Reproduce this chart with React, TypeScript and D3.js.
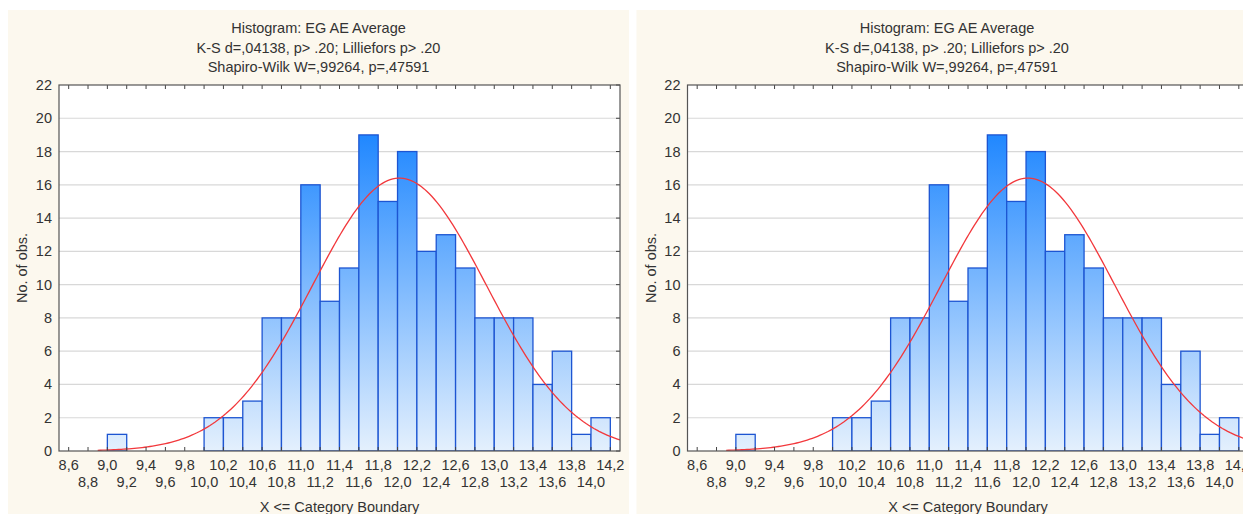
import React from "react";
import * as d3 from "d3";

// ---- data ----
const binStarts = [8.6, 8.8, 9.0, 9.2, 9.4, 9.6, 9.8, 10.0, 10.2, 10.4, 10.6, 10.8, 11.0, 11.2, 11.4, 11.6, 11.8, 12.0, 12.2, 12.4, 12.6, 12.8, 13.0, 13.2, 13.4, 13.6, 13.8, 14.0];
const counts = [0, 0, 1, 0, 0, 0, 0, 2, 2, 3, 8, 8, 16, 9, 11, 19, 15, 18, 12, 13, 11, 8, 8, 8, 4, 6, 1, 2];
const binWidth = 0.2;
const xTickValues = [8.6, 8.8, 9.0, 9.2, 9.4, 9.6, 9.8, 10.0, 10.2, 10.4, 10.6, 10.8, 11.0, 11.2, 11.4, 11.6, 11.8, 12.0, 12.2, 12.4, 12.6, 12.8, 13.0, 13.2, 13.4, 13.6, 13.8, 14.0, 14.2];
const xTickLabels = ["8,6", "8,8", "9,0", "9,2", "9,4", "9,6", "9,8", "10,0", "10,2", "10,4", "10,6", "10,8", "11,0", "11,2", "11,4", "11,6", "11,8", "12,0", "12,2", "12,4", "12,6", "12,8", "13,0", "13,2", "13,4", "13,6", "13,8", "14,0", "14,2"];
const yTickValues = [0, 2, 4, 6, 8, 10, 12, 14, 16, 18, 20, 22];
const titleLines = ["Histogram: EG AE Average", "K-S d=,04138, p> .20; Lilliefors p> .20", "Shapiro-Wilk W=,99264, p=,47591"];
const xAxisTitle = "X <= Category Boundary";
const yAxisTitle = "No. of obs.";
// fitted normal curve parameters
const fitMean = 12.02;
const fitSd = 0.9;
const fitStart = 8.9;
const fitEnd = 14.3;

const W = 1243;
const H = 514;
const FONT = "'Liberation Sans', Arial, sans-serif";

function Panel({ ox, id }: { ox: number; id: string }) {
  const pl = 59, pr = 620, pt = 85, pb = 451;
  const x = d3.scaleLinear().domain([8.5, 14.3]).range([pl, pr]);
  const y = d3.scaleLinear().domain([0, 22]).range([pb, pt]);
  const n = d3.sum(counts);
  const pts: [number, number][] = [];
  const steps = 200;
  for (let i = 0; i <= steps; i++) {
    const v = fitStart + ((fitEnd - fitStart) * i) / steps;
    const z = (v - fitMean) / fitSd;
    const dens = (n * binWidth) / (fitSd * Math.sqrt(2 * Math.PI)) * Math.exp(-0.5 * z * z);
    pts.push([v, dens]);
  }
  const line = d3.line<[number, number]>().x((d) => x(d[0])).y((d) => y(d[1]));
  const tc = "#333";
  return (
    <g transform={`translate(${ox},0)`}>
      <defs>
        <linearGradient id={`g${id}`} gradientUnits="userSpaceOnUse" x1="0" x2="0" y1={y(20)} y2={y(0)}>
          <stop offset="0" stopColor="#1682ff" />
          <stop offset="1" stopColor="#e4f0fd" />
        </linearGradient>
        <clipPath id={`c${id}`}>
          <rect x={pl} y={pt} width={pr - pl} height={pb - pt} />
        </clipPath>
      </defs>
      <rect x={8} y={10} width={621} height={H - 10} fill="#fcf8ee" />
      {titleLines.map((t, i) => (
        <text key={i} x={318.5} y={33 + i * 19.5} textAnchor="middle" fontFamily={FONT} fontSize={14.5} fill={tc}>{t}</text>
      ))}
      <rect x={pl} y={pt} width={pr - pl} height={pb - pt} fill="#fff" />
      {yTickValues.filter((v) => v > 0 && v < 22).map((v) => (
        <line key={v} x1={pl} x2={pr} y1={y(v)} y2={y(v)} stroke="#d8d8d8" strokeWidth={1.2} />
      ))}
      <g clipPath={`url(#c${id})`}>
        {binStarts.map((b, i) => counts[i] > 0 ? (
          <rect key={b} x={x(b)} y={y(counts[i])} width={x(b + binWidth) - x(b)} height={y(0) - y(counts[i])}
            fill={`url(#g${id})`} stroke="#1d55d2" strokeWidth={1.3} />
        ) : null)}
        <path d={line(pts) || ""} fill="none" stroke="#f2383c" strokeWidth={1.3} />
      </g>
      {xTickValues.map((v) => (
        <g key={v}>
          <line x1={x(v)} x2={x(v)} y1={pt} y2={pt + 4} stroke="#444" />
          <line x1={x(v)} x2={x(v)} y1={pb} y2={pb - 4} stroke="#444" />
        </g>
      ))}
      {yTickValues.map((v) => (
        <g key={v}>
          <line x1={pr} x2={pr - 4} y1={y(v)} y2={y(v)} stroke="#444" />
          <text x={52} y={y(v) + 5} textAnchor="end" fontFamily={FONT} fontSize={14.5} fill={tc}>{v}</text>
        </g>
      ))}
      <rect x={pl} y={pt} width={pr - pl} height={pb - pt} fill="none" stroke="#555" strokeWidth={1.2} />
      {xTickValues.map((v, i) => (
        <text key={v} x={x(v)} y={i % 2 === 0 ? 470 : 487} textAnchor="middle" fontFamily={FONT} fontSize={14.5} fill={tc}>{xTickLabels[i]}</text>
      ))}
      <text x={(pl + pr) / 2} y={512} textAnchor="middle" fontFamily={FONT} fontSize={14.5} fill={tc}>{xAxisTitle}</text>
      <text transform={`translate(27,${(pt + pb) / 2}) rotate(-90)`} textAnchor="middle" fontFamily={FONT} fontSize={14.5} fill={tc}>{yAxisTitle}</text>
    </g>
  );
}

export default function App() {
  return (
    <svg width={W} height={H} style={{ position: "absolute", left: 0, top: 0, background: "#fff" }}>
      <rect x={0} y={0} width={W} height={H} fill="#fff" />
      <Panel ox={0} id="a" />
      <Panel ox={628.5} id="b" />
    </svg>
  );
}
